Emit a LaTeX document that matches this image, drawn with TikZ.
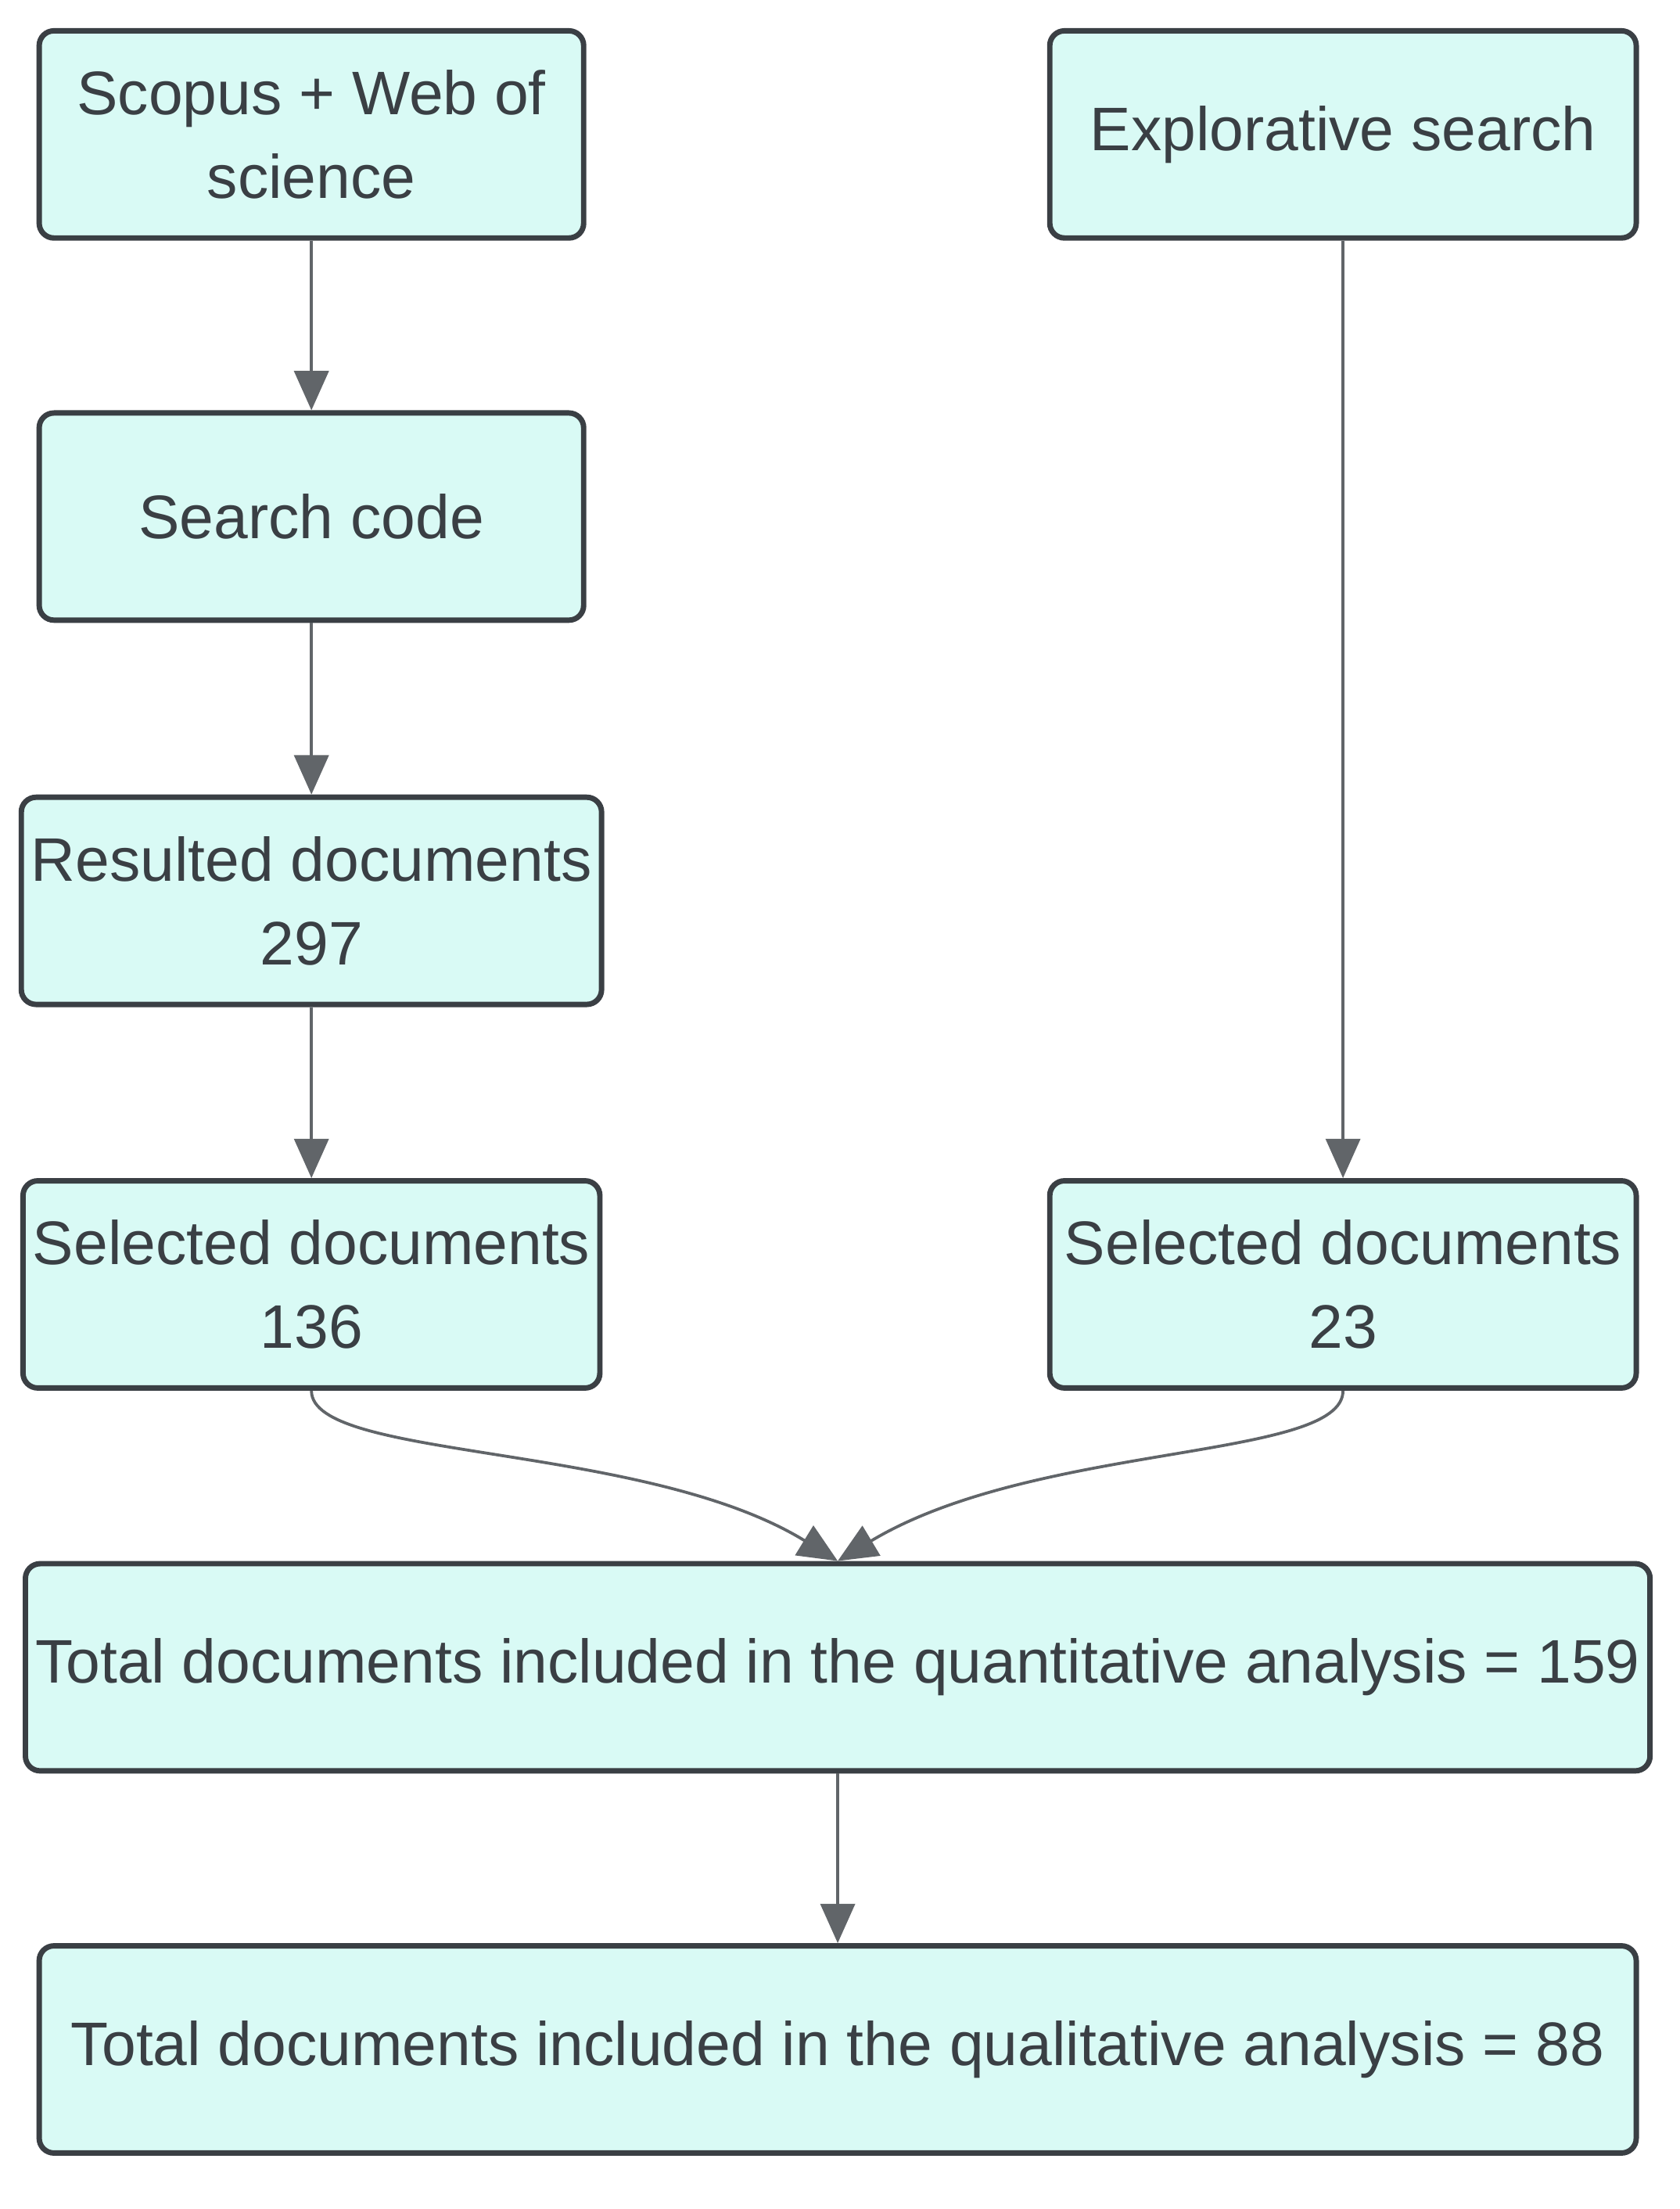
\documentclass[tikz,border=0pt]{standalone}
\usepackage{fontspec}
\setmainfont{Liberation Sans}
\usetikzlibrary{arrows.meta}
\definecolor{boxfill}{HTML}{D9FAF5}
\definecolor{boxline}{HTML}{3A3F44}
\begin{document}
\begin{tikzpicture}[
    box/.style={draw=boxline, line width=1.1pt, fill=boxfill, rounded corners=3pt,
        align=center, minimum height=1.48cm, inner sep=2pt,
        font=\fontsize{12.5}{17}\selectfont, text=boxline},
    flow/.style={draw=boxline!80, line width=0.6pt, -{Triangle[length=8pt,width=7pt]}}
]
\useasboundingbox (0,0) rectangle (12,-15.78);
% left column
\node[box, minimum width=3.89cm] (scopus) at (2.225,-0.96) {Scopus + Web of\\science};
\node[box, minimum width=3.89cm] (code) at (2.225,-3.69) {Search code};
\node[box, minimum width=3.89cm] (resulted) at (2.225,-6.435) {Resulted documents\\297};
\node[box, minimum width=3.89cm] (selL) at (2.225,-9.175) {Selected documents\\136};
% right column
\node[box, minimum width=4.19cm] (explore) at (9.595,-0.96) {Explorative search};
\node[box, minimum width=4.19cm] (selR) at (9.595,-9.175) {Selected documents\\23};
% totals
\node[box, minimum width=11.41cm] (quant) at (5.985,-11.91) {Total documents included in the quantitative analysis = 159};
\node[box, minimum width=11.41cm] (qual) at (5.985,-14.64) {Total documents included in the qualitative analysis = 88};

\draw[flow] (scopus) -- (code);
\draw[flow] (code) -- (resulted);
\draw[flow] (resulted) -- (selL);
\draw[flow] (explore) -- (selR);
\draw[flow] (selL.south) .. controls ++(0,-0.5) and (4.6,-10.3) .. (quant.north);
\draw[flow] (selR.south) .. controls ++(0,-0.5) and (7.4,-10.3) .. (quant.north);
\draw[flow] (quant) -- (qual);
\end{tikzpicture}
\end{document}
